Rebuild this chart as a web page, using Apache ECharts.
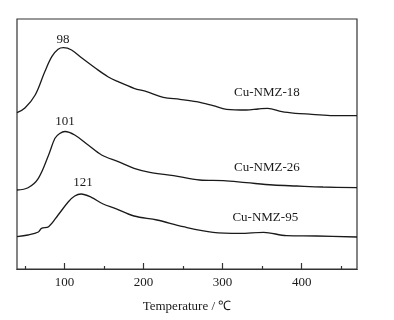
<!DOCTYPE html>
<html>
<head>
<meta charset="utf-8">
<script src="https://cdn.jsdelivr.net/npm/echarts@6/dist/echarts.min.js"></script>
<style>
  html, body { margin: 0; padding: 0; background: #fff; }
  #chart { width: 394px; height: 320px; }
</style>
</head>
<body>
<div id="chart"></div>
<script>
// TPD curves (x = temperature, y = offset signal)
const cu18 = [[40,156.3],[50,161],[63,174],[75,197],[84,212.3],[92,219.7],[98.6,221.3],[109,219],[122,211],[139,201],[155,192.3],[168,187.3],[188,180.7],[204,177.3],[225,171.7],[246,169.7],[267,167.3],[288,163.3],[305,159.7],[330,159],[345,160],[357,160.7],[375,157.3],[392,155.7],[413,154.7],[440,153.3],[470,153.3]];
const cu26 = [[40,79],[54,81.3],[67,90.7],[80,114],[88,130.7],[94,135.5],[100.7,137.5],[113,134],[130,124],[147,114],[168,107.3],[188,100.7],[208,96.7],[238,93.3],[271,89],[301,88.3],[330,86.3],[364,84],[394,83],[427,82],[470,81.3]];
const cu95 = [[40,32.3],[54,34],[67,37],[71,40.7],[80,42.3],[92,54],[105,67.3],[113,73],[121,75],[134,71.7],[149,65],[164,60.7],[188,53],[217,49],[250,42.3],[288,36.7],[322,35.7],[352,36.7],[381,33.3],[419,33],[470,32]];

const seriesNames = ['Cu-NMZ-18', 'Cu-NMZ-26', 'Cu-NMZ-95'];
const seriesData = [cu18, cu26, cu95];
// name label anchors and peak labels (data coordinates)
const namePos = [[356, 176], [356, 101], [354, 51]];
const peakText = ['98', '101', '121'];
const peakPos = [[98.2, 229], [100.7, 147], [123.5, 86]];

const xTicks = [100, 200, 300, 400];
const xMinorTicks = [50, 150, 250, 350, 450];

const font = '"Liberation Serif", "Times New Roman", serif';
const ink = '#1a1a1a';

const chart = echarts.init(document.getElementById('chart'));

const series = seriesData.map((d, i) => ({
  name: seriesNames[i],
  type: 'line',
  data: d,
  smooth: 0.35,
  showSymbol: false,
  lineStyle: { color: ink, width: 1.3 },
  markPoint: {
    symbol: 'circle',
    symbolSize: 1,
    itemStyle: { color: 'rgba(0,0,0,0)' },
    label: { show: true, position: 'inside', color: ink, fontFamily: font, fontSize: 13 },
    data: [
      { coord: namePos[i], value: seriesNames[i], label: { formatter: seriesNames[i] } },
      { coord: peakPos[i], value: peakText[i], label: { formatter: peakText[i] } }
    ]
  }
}));

// a second bottom axis that only carries the short minor ticks
series.push({ type: 'line', xAxisIndex: 1, data: [], silent: true });

chart.setOption({
  animation: false,
  grid: { left: 17, right: 37, top: 19, bottom: 51, show: true, borderColor: '#333', borderWidth: 1.2 },
  xAxis: [{
    type: 'value',
    min: 40,
    max: 470,
    name: 'Temperature / ℃',
    nameLocation: 'middle',
    nameGap: 31,
    nameTextStyle: { color: ink, fontFamily: font, fontSize: 13 },
    axisLine: { show: true, lineStyle: { color: '#333', width: 1.2 } },
    axisTick: { show: true, inside: true, length: 6, customValues: xTicks, lineStyle: { color: '#333', width: 1.2 } },
    axisLabel: { show: true, customValues: xTicks, color: ink, fontFamily: font, fontSize: 13, margin: 7 },
    splitLine: { show: false }
  }, {
    type: 'value',
    min: 40,
    max: 470,
    position: 'bottom',
    offset: 0,
    axisLine: { show: true, onZero: false, lineStyle: { color: '#333', width: 1.2 } },
    axisTick: { show: true, inside: true, length: 3, customValues: xMinorTicks, lineStyle: { color: '#333', width: 1.2 } },
    axisLabel: { show: false },
    splitLine: { show: false }
  }],
  yAxis: {
    type: 'value',
    min: 0,
    max: 250,
    axisLine: { show: false },
    axisTick: { show: false },
    axisLabel: { show: false },
    splitLine: { show: false }
  },
  series: series
});
</script>
</body>
</html>
